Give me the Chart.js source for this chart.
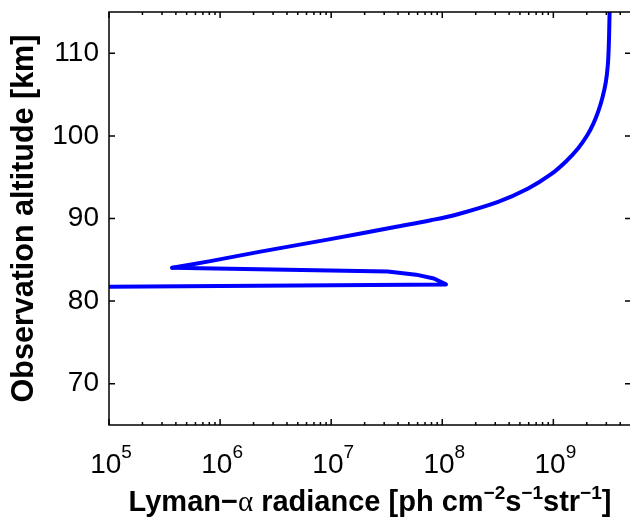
<!DOCTYPE html>
<html>
<head>
<meta charset="utf-8">
<script src="https://cdn.jsdelivr.net/npm/chart.js@4.4.1/dist/chart.umd.min.js"></script>
<style>
  html, body { margin: 0; padding: 0; overflow: hidden; background: #fff; }
  #wrap { position: relative; width: 640px; height: 521px; }
</style>
</head>
<body>
<div id="wrap"><canvas id="chart"></canvas></div>
<script>
// lower branch: flat part at ~81.7 km and the loop back to the 84 km turning point
const lowRad = [1e4, 1.08e8, 8.4e7, 5.8e7, 3.23e7, 3.71e5];
const lowAlt = [81.63, 82.02, 82.74, 83.2, 83.57, 84.03];
// upper branch: from the turning point up to the top of the plot
const upRad = [3.71e5, 8.17e5, 2.31e6, 9.29e6, 3.66e7, 7.89e7, 1.38e8, 3.18e8, 5.93e8, 9.55e8,
               1.305e9, 1.674e9, 2.019e9, 2.287e9, 2.537e9, 2.757e9, 2.965e9, 3.091e9, 3.156e9, 3.209e9];
const upAlt = [84.03, 84.84, 85.99, 87.44, 88.95, 89.79, 90.52, 92.01, 93.63, 95.36,
               96.93, 98.5, 100.07, 101.46, 102.97, 104.55, 106.48, 108.54, 110.96, 114.95];

const xMajor = [1e5, 1e6, 1e7, 1e8, 1e9];
const xExp = ['5', '6', '7', '8', '9'];
const yTicks = [70, 80, 90, 100, 110];

const FONT = '"Liberation Sans", Arial, sans-serif';

function toPoints(xs, ys) {
  return xs.map((v, i) => ({x: v, y: ys[i]}));
}

// minor log ticks 2..9 x 10^n inside the axis range
function logTicks(min, max) {
  const out = [];
  for (let e = 5; e <= 9; e++) {
    for (let m = 1; m <= 9; m++) {
      const v = m * Math.pow(10, e);
      if (v >= min && v <= max) out.push({value: v, major: m === 1});
    }
  }
  return out;
}

// MATLAB style box, inward ticks, 10^n labels and the x title with superscripts
const matlabAxes = {
  id: 'matlabAxes',
  afterDraw(chart) {
    const {ctx, chartArea: a, scales: {x, y}} = chart;
    ctx.save();
    ctx.strokeStyle = '#000';
    ctx.lineWidth = 1.5;
    ctx.strokeRect(a.left, a.top, a.right - a.left, a.bottom - a.top);
    ctx.beginPath();
    x.ticks.forEach(t => {
      const px = x.getPixelForValue(t.value);
      const len = t.major ? 6 : 3;
      ctx.moveTo(px, a.bottom); ctx.lineTo(px, a.bottom - len);
      ctx.moveTo(px, a.top); ctx.lineTo(px, a.top + len);
    });
    y.ticks.forEach(t => {
      const py = y.getPixelForValue(t.value);
      ctx.moveTo(a.left, py); ctx.lineTo(a.left + 6, py);
      ctx.moveTo(a.right, py); ctx.lineTo(a.right - 6, py);
    });
    ctx.stroke();

    // x tick labels 10^n
    ctx.fillStyle = '#000';
    ctx.textBaseline = 'alphabetic';
    ctx.textAlign = 'left';
    xMajor.forEach((v, i) => {
      const px = x.getPixelForValue(v);
      ctx.font = '28px ' + FONT;
      const w1 = ctx.measureText('10').width;
      ctx.font = '19px ' + FONT;
      const w2 = ctx.measureText(xExp[i]).width;
      const x0 = px - (w1 + w2) / 2 + 2;
      ctx.font = '28px ' + FONT;
      ctx.fillText('10', x0, a.bottom + 48);
      ctx.font = '19px ' + FONT;
      ctx.fillText(xExp[i], x0 + w1, a.bottom + 33);
    });

    // x title
    const big = 'bold 29px ' + FONT;
    const sup = 'bold 19px ' + FONT;
    const runs = [
      ['Lyman\u2212', big, 0],
      ['\u03b1', '29px "Liberation Serif", serif', 0],
      [' radiance [ph cm', big, 0],
      ['\u22122', sup, -12],
      ['s', big, 0],
      ['\u22121', sup, -12],
      ['str', big, 0],
      ['\u22121', sup, -12],
      [']', big, 0]
    ];
    let total = 0;
    runs.forEach(r => { ctx.font = r[1]; r.push(ctx.measureText(r[0]).width); total += r[3]; });
    let cx = (a.left + a.right) / 2 - total / 2;
    const base = a.bottom + 86;
    runs.forEach(r => {
      ctx.font = r[1];
      ctx.fillText(r[0], cx, base + r[2]);
      cx += r[3];
    });
    ctx.restore();
  }
};

new Chart(document.getElementById('chart'), {
  type: 'line',
  data: {
    datasets: [
      {
        data: toPoints(lowRad, lowAlt),
        borderColor: '#0000ff',
        borderWidth: 4,
        pointRadius: 0,
        tension: 0,
        borderCapStyle: 'round',
        borderJoinStyle: 'round'
      },
      {
        data: toPoints(upRad, upAlt),
        borderColor: '#0000ff',
        borderWidth: 4,
        pointRadius: 0,
        tension: 0.35,
        borderCapStyle: 'round',
        borderJoinStyle: 'round'
      }
    ]
  },
  options: {
    responsive: true,
    maintainAspectRatio: false,
    animation: false,
    events: [],
    layout: {padding: {left: 0, top: 12, right: 9, bottom: 0}},
    plugins: {legend: {display: false}, tooltip: {enabled: false}},
    scales: {
      x: {
        type: 'logarithmic',
        min: 1e5,
        max: 5e9,
        grid: {display: false, drawTicks: false},
        border: {display: false},
        ticks: {display: false},
        afterBuildTicks: s => { s.ticks = logTicks(s.min, s.max); },
        afterFit: s => { s.height = 96; s.paddingLeft = 0; s.paddingRight = 0; }
      },
      y: {
        type: 'linear',
        min: 65,
        max: 115,
        grid: {display: false, drawTicks: false},
        border: {display: false},
        ticks: {
          color: '#000',
          padding: 10,
          font: {family: FONT, size: 28}
        },
        afterBuildTicks: s => { s.ticks = yTicks.map(v => ({value: v})); },
        afterFit: s => { s.width = 109; s.paddingTop = 0; s.paddingBottom = 0; },
        title: {
          display: true,
          text: 'Observation altitude [km]',
          color: '#000',
          padding: {top: 6, bottom: 0},
          font: {family: FONT, size: 30.5, weight: 'bold', lineHeight: 1.2}
        }
      }
    }
  },
  plugins: [matlabAxes]
});
</script>
</body>
</html>
